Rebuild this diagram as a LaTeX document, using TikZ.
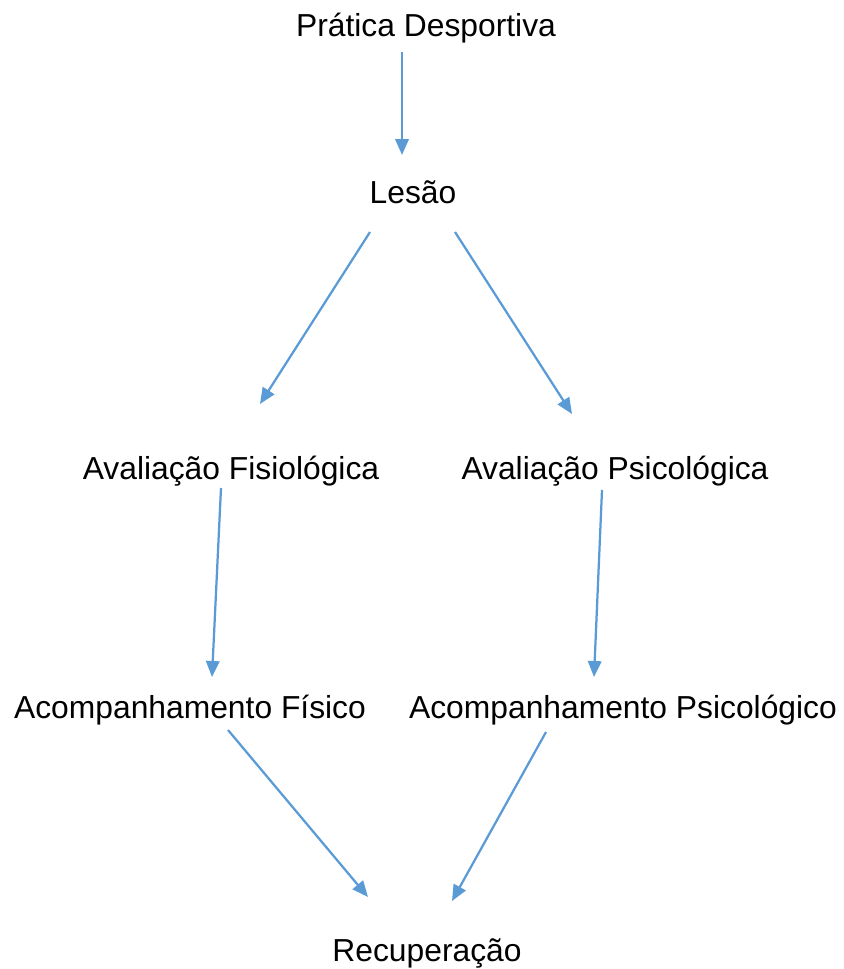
\documentclass[tikz,border=0pt]{standalone}
\usepackage{fontspec}
\setmainfont{Liberation Sans}
\usepackage{xcolor}
\usetikzlibrary{arrows.meta, positioning}
\definecolor{flowblue}{RGB}{91,155,213}
\tikzset{
  stage/.style={inner sep=0pt, anchor=base, text=black,
    font=\fontsize{18.1}{21}\selectfont},
  arrow/.style={-{Triangle[length=0.32cm, width=0.27cm]}, line width=0.045cm,
    color=flowblue},
}

\begin{document}
\begin{tikzpicture}[x=0.02cm, y=-0.02cm]
  \useasboundingbox (0,0) rectangle (843,969);

  \node[stage] (prat) at (426,37) {Prática Desportiva};
  \node[stage] (lesao) at (413,204) {Lesão};
  \node[stage] (avfis) at (231,479) {Avaliação Fisiológica};
  \node[stage] (avpsi) at (615,479) {Avaliação Psicológica};
  \node[stage] (acfis) at (190,718) {Acompanhamento Físico};
  \node[stage] (acpsi) at (623,718) {Acompanhamento Psicológico};
  \node[stage] (recup) at (427,961) {Recuperação};

  \draw[arrow] ([shift={(-24,15)}]prat.base) -- ([shift={(-11,-49)}]lesao.base);
  \draw[arrow] ([shift={(-43,28)}]lesao.base) -- ([shift={(29,-75)}]avfis.base);
  \draw[arrow] ([shift={(42,28)}]lesao.base) -- ([shift={(-43,-65)}]avpsi.base);
  \draw[arrow] ([shift={(-10,9)}]avfis.base) -- ([shift={(22,-41)}]acfis.base);
  \draw[arrow] ([shift={(-13,11)}]avpsi.base) -- ([shift={(-29,-41)}]acpsi.base);
  \draw[arrow] ([shift={(38,12)}]acfis.base) -- ([shift={(-59,-64)}]recup.base);
  \draw[arrow] ([shift={(-77,14)}]acpsi.base) -- ([shift={(25,-60)}]recup.base);
\end{tikzpicture}
\end{document}
